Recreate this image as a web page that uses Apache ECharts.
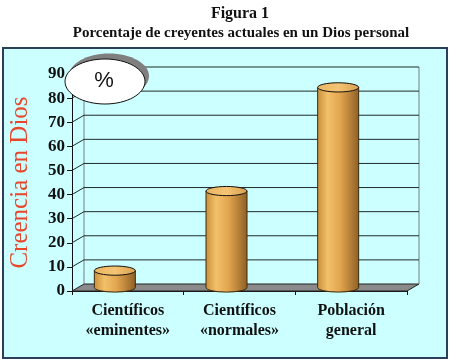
<!DOCTYPE html>
<html><head><meta charset="utf-8">
<script src="https://cdn.jsdelivr.net/npm/echarts@6/dist/echarts.min.js"></script>
<style>html,body{margin:0;padding:0;background:#fff}#c{width:450px;height:362px}</style>
</head><body><div id="c"></div>
<script>
const titleText = 'Figura 1';
const subtitleText = 'Porcentaje de creyentes actuales en un Dios personal';
const categories = ['Científicos\n«eminentes»', 'Científicos\n«normales»', 'Población\ngeneral'];
const values = [7, 40, 83];
const yTicks = [0, 10, 20, 30, 40, 50, 60, 70, 80, 90];
const yName = 'Creencia en Dios';
const badge = '%';

const chart = echarts.init(document.getElementById('c'));
const DX = 12, DY = -7;
const serif = '"Liberation Serif","Times New Roman",serif';

const option = {
  animation: false,
  backgroundColor: '#ffffff',
  grid: { left: 58, right: 43, top: 74, bottom: 71 },
  xAxis: {
    type: 'category', data: categories,
    axisLine: { show: true, lineStyle: { color: '#111', width: 1 } },
    axisTick: { show: true, length: 4, lineStyle: { color: '#111' } },
    axisLabel: { fontFamily: serif, fontWeight: 'bold', fontSize: 16, color: '#111', lineHeight: 20, margin: 10 },
    splitLine: { show: false }
  },
  yAxis: {
    type: 'value', min: 0, max: 90, interval: 10,
    name: yName, nameLocation: 'middle', nameRotate: 90, nameGap: 39,
    nameTextStyle: { fontFamily: serif, fontSize: 25, color: '#e8472c' },
    axisLine: { show: true, lineStyle: { color: '#111', width: 1 } },
    axisTick: { show: true, length: 5, lineStyle: { color: '#111' } },
    axisLabel: { fontFamily: serif, fontWeight: 'bold', fontSize: 17, color: '#111', margin: 7 },
    splitLine: { show: false }
  },
  graphic: [
    { type: 'rect', z: -10, shape: { x: 3, y: 48, width: 444, height: 310 },
      style: { fill: '#ccffff', stroke: '#2b3f5a', lineWidth: 2 } },
    { type: 'text', z: 10, x: 240, y: 14, style: { text: titleText, font: 'bold 16px ' + serif, fill: '#111', align: 'center', verticalAlign: 'middle' } },
    { type: 'text', z: 10, x: 241, y: 33, style: { text: subtitleText, font: 'bold 15px ' + serif, fill: '#111', align: 'center', verticalAlign: 'middle' } },
    { type: 'ellipse', z: 100, shape: { cx: 109, cy: 76, rx: 40, ry: 22.5 }, style: { fill: '#7f7f7f' } },
    { type: 'ellipse', z: 101, shape: { cx: 105, cy: 81.5, rx: 40, ry: 22.5 }, style: { fill: '#ffffff', stroke: '#111', lineWidth: 1 } },
    { type: 'text', z: 102, x: 104, y: 81, style: { text: badge, font: '22px "Liberation Sans",Arial,sans-serif', fill: '#111', align: 'center', verticalAlign: 'middle' } }
  ],
  series: [
    {
      type: 'custom', silent: true, z: 1,
      data: [[0, 0]],
      renderItem: function (params, api) {
        const cs = params.coordSys;
        const x0 = cs.x, x1 = cs.x + cs.width;
        const yv = v => api.coord([0, v])[1];
        const y0 = yv(0), yTop = yv(yTicks[yTicks.length - 1]);
        const ch = [];
        ch.push({ type: 'polygon', shape: { points: [[x0, y0], [x1, y0], [x1 + DX, y0 + DY], [x0 + DX, y0 + DY]] },
          style: { fill: '#8a8a8a', stroke: '#222', lineWidth: 1 } });
        ch.push({ type: 'line', shape: { x1: x0 + DX, y1: y0 + DY, x2: x0 + DX, y2: yTop + DY }, style: { stroke: '#6f8080', lineWidth: 1 } });
        ch.push({ type: 'line', shape: { x1: x1 + DX, y1: y0 + DY, x2: x1 + DX, y2: yTop + DY }, style: { stroke: '#6f8080', lineWidth: 1 } });
        yTicks.forEach(v => {
          if (v === 0) return;
          const y = yv(v);
          ch.push({ type: 'line', shape: { x1: x0 + DX, y1: y + DY, x2: x1 + DX, y2: y + DY }, style: { stroke: '#1f2a2a', lineWidth: 1 } });
          ch.push({ type: 'line', shape: { x1: x0, y1: y, x2: x0 + DX, y2: y + DY }, style: { stroke: '#1f2a2a', lineWidth: 1 } });
        });
        return { type: 'group', children: ch };
      }
    },
    {
      type: 'custom', silent: true, z: 5,
      data: values.map((v, i) => [i, v]),
      renderItem: function (params, api) {
        const i = api.value(0), v = api.value(1);
        const top = api.coord([i, v]);
        const bot = api.coord([i, 0]);
        const cx = top[0] - 13;
        const rx = 20.5, ry = 4.6;
        const yt = top[1] + DY / 2, yb = bot[1] + DY / 2;
        const bodyFill = new echarts.graphic.LinearGradient(0, 0, 1, 0, [
          { offset: 0, color: '#c98d3a' },
          { offset: 0.25, color: '#f3c06a' },
          { offset: 0.55, color: '#e2a54e' },
          { offset: 1, color: '#8d5f25' }
        ]);
        const topFill = new echarts.graphic.LinearGradient(0, 0, 1, 0, [
          { offset: 0, color: '#e9b562' },
          { offset: 0.5, color: '#f4c474' },
          { offset: 1, color: '#d9a050' }
        ]);
        const d = 'M' + (cx - rx) + ' ' + yt + ' L' + (cx - rx) + ' ' + yb +
          ' A' + rx + ' ' + ry + ' 0 0 0 ' + (cx + rx) + ' ' + yb +
          ' L' + (cx + rx) + ' ' + yt + ' Z';
        return {
          type: 'group',
          children: [
            { type: 'path', shape: { pathData: d }, style: { fill: bodyFill, stroke: '#3a2a10', lineWidth: 1 } },
            { type: 'ellipse', shape: { cx: cx, cy: yt, rx: rx, ry: ry }, style: { fill: topFill, stroke: '#111', lineWidth: 1 } }
          ]
        };
      }
    }
  ]
};
chart.setOption(option);
</script>
</body></html>
